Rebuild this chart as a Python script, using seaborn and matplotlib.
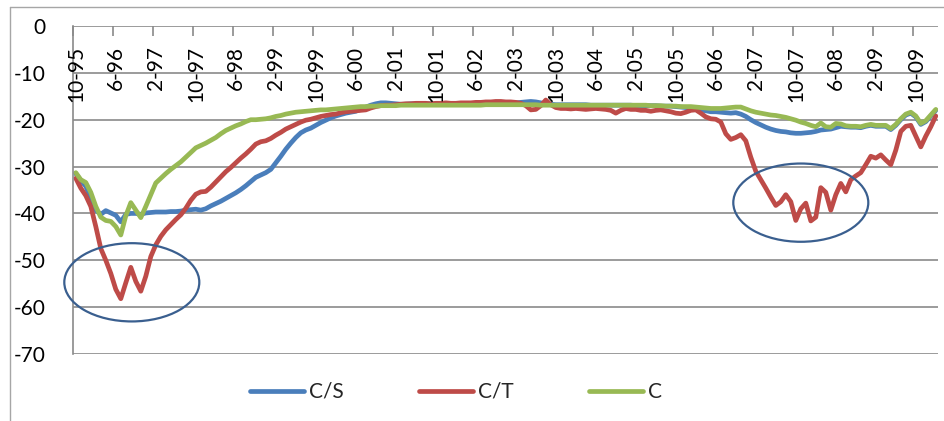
import numpy as np
import pandas as pd
import matplotlib
matplotlib.use("Agg")
import matplotlib.pyplot as plt
import matplotlib.transforms as mtransforms
from matplotlib.lines import Line2D
from matplotlib.patches import Ellipse
import seaborn as sns

# Monthly observations, October 1995 through February 2010
months = pd.period_range("1995-10", "2010-02", freq="M")
month_labels = [f"{p.month}-{p.year % 100:02d}" for p in months]

SERIES = ["C/S", "C/T", "C"]
COLORS = ["#4A7EBB", "#BE4B48", "#98B954"]

cs_values = [
    -31.5, -33.0, -34.2, -36.8, -39.3, -40.2, -39.4, -39.9, -40.4, -41.8,
    -40.2, -40.0, -40.0, -40.2, -39.9, -39.8, -39.7, -39.7, -39.7, -39.6,
    -39.6, -39.5, -39.3, -39.2, -39.1, -39.3, -39.0, -38.4, -37.9, -37.4,
    -36.8, -36.2, -35.6, -34.9, -34.1, -33.2, -32.3, -31.8, -31.3, -30.6,
    -29.2, -27.8, -26.3, -25.0, -23.8, -22.8, -22.2, -21.8, -21.2, -20.6,
    -20.1, -19.6, -19.2, -18.9, -18.6, -18.4, -18.2, -17.8, -17.3, -16.9,
    -16.6, -16.4, -16.4, -16.5, -16.6, -16.7, -16.7, -16.6, -16.6, -16.6,
    -16.6, -16.6, -16.6, -16.7, -16.7, -16.6, -16.6, -16.6, -16.7, -16.7,
    -16.6, -16.6, -16.6, -16.6, -16.5, -16.5, -16.6, -16.6, -16.4, -16.3,
    -16.2, -16.1, -16.2, -16.4, -16.6, -16.7, -16.8, -16.8, -16.8, -16.8,
    -16.8, -16.8, -16.8, -16.9, -16.9, -16.9, -16.9, -16.9, -16.9, -16.9,
    -16.9, -16.9, -17.0, -17.0, -17.0, -17.0, -17.0, -17.1, -17.1, -17.1,
    -17.2, -17.3, -17.4, -17.5, -17.7, -17.9, -18.1, -18.3, -18.3, -18.4,
    -18.5, -18.6, -18.5, -18.8, -19.3, -20.0, -20.6, -21.1, -21.6, -22.0,
    -22.3, -22.5, -22.6, -22.8, -22.9, -22.9, -22.8, -22.7, -22.5, -22.2,
    -22.1, -22.0, -21.7, -21.4, -21.5, -21.6, -21.6, -21.7, -21.4, -21.2,
    -21.4, -21.4, -21.4, -22.1, -21.2, -20.0, -19.0, -18.6, -19.4, -21.0,
    -20.4, -19.2, -18.0,
]

ct_values = [
    -32.5, -34.6, -36.2, -38.5, -42.8, -47.5, -50.0, -52.8, -56.2, -58.2,
    -54.8, -51.5, -54.5, -56.6, -53.4, -49.2, -46.7, -44.9, -43.5, -42.4,
    -41.3, -40.3, -38.9, -37.2, -35.9, -35.4, -35.3, -34.4, -33.3, -32.2,
    -31.1, -30.2, -29.2, -28.2, -27.3, -26.3, -25.2, -24.7, -24.5, -24.0,
    -23.3, -22.7, -22.0, -21.5, -21.0, -20.5, -20.1, -19.9, -19.6, -19.3,
    -19.1, -18.9, -18.8, -18.5, -18.3, -18.2, -18.1, -18.0, -17.9, -17.5,
    -17.2, -17.0, -16.9, -16.9, -16.8, -16.7, -16.6, -16.6, -16.5, -16.5,
    -16.5, -16.6, -16.5, -16.5, -16.4, -16.5, -16.5, -16.4, -16.4, -16.4,
    -16.3, -16.3, -16.2, -16.2, -16.1, -16.1, -16.2, -16.2, -16.3, -16.5,
    -17.0, -17.9, -17.8, -17.0, -15.8, -16.8, -17.4, -17.6, -17.6, -17.7,
    -17.6, -17.7, -17.8, -17.7, -17.6, -17.7, -17.8, -18.0, -18.6, -18.0,
    -17.6, -17.8, -17.8, -18.0, -18.0, -18.2, -18.0, -17.9, -18.1, -18.3,
    -18.6, -18.7, -18.4, -18.0, -17.9, -18.6, -19.4, -19.8, -19.9, -20.5,
    -23.0, -24.2, -23.8, -23.2, -24.5, -28.0, -31.0, -32.8, -34.6, -36.5,
    -38.3, -37.5, -36.0, -37.5, -41.5, -39.0, -37.8, -41.6, -40.8, -34.5,
    -35.5, -39.3, -36.0, -33.6, -35.4, -32.8, -32.0, -31.3, -29.6, -27.8,
    -28.2, -27.5, -28.6, -29.6, -26.5, -22.5, -21.4, -21.2, -23.5, -25.8,
    -23.5, -21.5, -19.2,
]

c_values = [
    -31.3, -32.8, -33.4, -35.5, -38.5, -40.8, -41.5, -41.7, -42.8, -44.6,
    -40.5, -37.7, -39.3, -40.9, -38.5, -36.0, -33.5, -32.5, -31.5, -30.6,
    -29.8, -29.0, -28.0, -27.0, -26.0, -25.5, -25.0, -24.4, -23.8, -23.0,
    -22.3, -21.8, -21.3, -20.9, -20.4, -20.0, -20.0, -19.9, -19.8, -19.6,
    -19.3, -19.1, -18.8, -18.6, -18.4, -18.3, -18.2, -18.1, -18.0, -17.9,
    -17.9, -17.8, -17.7, -17.6, -17.5, -17.4, -17.3, -17.2, -17.2, -17.1,
    -17.1, -17.0, -17.0, -17.0, -17.0, -16.9, -16.9, -16.9, -16.9, -16.9,
    -16.9, -16.9, -16.9, -16.9, -16.9, -16.9, -16.9, -16.9, -16.9, -16.9,
    -16.9, -16.9, -16.8, -16.8, -16.8, -16.8, -16.8, -16.8, -16.8, -16.8,
    -16.8, -16.8, -16.8, -16.9, -16.9, -16.9, -16.9, -16.9, -16.9, -16.9,
    -16.9, -16.9, -16.9, -16.9, -16.9, -16.9, -16.9, -16.9, -16.9, -16.9,
    -16.9, -16.9, -16.9, -16.9, -16.9, -17.0, -17.0, -17.0, -17.1, -17.1,
    -17.1, -17.2, -17.2, -17.2, -17.3, -17.4, -17.5, -17.6, -17.6, -17.6,
    -17.5, -17.4, -17.3, -17.3, -17.7, -18.1, -18.4, -18.6, -18.8, -19.0,
    -19.1, -19.3, -19.5, -19.8, -20.1, -20.5, -20.8, -21.2, -21.5, -20.7,
    -21.5, -21.6, -20.8, -20.9, -21.3, -21.4, -21.4, -21.5, -21.2, -21.0,
    -21.2, -21.2, -21.2, -21.9, -21.0, -19.8, -18.8, -18.4, -19.2, -20.8,
    -20.2, -19.0, -17.8,
]

Y_TICKS = [0, -10, -20, -30, -40, -50, -60, -70]
LABEL_STEP = 8

sns.set_theme(style="white")
plt.rcParams["font.family"] = ["Lato", "DejaVu Sans"]

df = pd.DataFrame({"pos": np.arange(len(months)),
                   "C/S": cs_values, "C/T": ct_values, "C": c_values})
long_df = df.melt(id_vars="pos", var_name="series", value_name="value")

W, H, DPI = 944, 421, 100
LINE_W = 3.4
fig = plt.figure(figsize=(W / DPI, H / DPI), dpi=DPI)
ax = fig.add_axes([73.3 / W, 1 - 354 / H, 865 / W, 328 / H])

sns.lineplot(data=long_df, x="pos", y="value", hue="series",
             hue_order=SERIES, palette=COLORS, linewidth=LINE_W,
             solid_capstyle="round", solid_joinstyle="round",
             legend=False, ax=ax)

n = len(months)
ax.set_xlim(-0.5, n - 0.5)
ax.set_ylim(-70, 0)
ax.set_xlabel("")
ax.set_ylabel("")

# horizontal gridlines
grid_color = "#8A8A8A"
ax.set_yticks(Y_TICKS)
ax.set_yticklabels([str(v) for v in Y_TICKS], fontsize=15, color="black")
ax.yaxis.grid(True, color=grid_color, linewidth=1.2)
ax.set_axisbelow(True)
ax.tick_params(axis="y", direction="out", length=8, width=1.2,
               color=grid_color, pad=12)

# category axis sits at the top (value 0), ticks between categories
ax.xaxis.set_ticks_position("top")
ax.set_xticks(np.arange(-0.5, n, LABEL_STEP))
ax.set_xticklabels([])
ax.tick_params(axis="x", direction="in", length=7, width=1.2,
               color=grid_color)

for side in ["top", "right", "bottom"]:
    ax.spines[side].set_visible(False)
ax.spines["left"].set_color(grid_color)
ax.spines["left"].set_linewidth(1.2)

label_tf = mtransforms.offset_copy(ax.get_xaxis_transform(), fig=fig,
                                   x=0, y=-20, units="dots")
for pos in range(0, n, LABEL_STEP):
    ax.text(pos, 1, month_labels[pos], transform=label_tf, rotation=90,
            ha="center", va="top", fontsize=15, color="black")

# highlight the two troughs of C/T
for (cx, cy) in [(11.2, -54.7), (145.0, -37.7)]:
    ax.add_patch(Ellipse((cx, cy), width=27, height=16.7, fill=False,
                         edgecolor="#3A5F8F", linewidth=1.6, clip_on=False,
                         zorder=5))

handles = [Line2D([], [], color=c, linewidth=LINE_W, solid_capstyle="round")
           for c in COLORS]
fig.legend(handles, SERIES, loc="center", bbox_to_anchor=(456 / W, 1 - 392 / H),
           ncol=3, frameon=False, fontsize=15, handlelength=2.6,
           handletextpad=0.25, columnspacing=3.6)

# chart-area border
border = "#A6A6A6"
fig.add_artist(Line2D([10 / W, 10 / W], [0, 1 - 7 / H], transform=fig.transFigure,
                      color=border, linewidth=1.0))
fig.add_artist(Line2D([10 / W, 1], [1 - 7 / H, 1 - 7 / H], transform=fig.transFigure,
                      color=border, linewidth=1.0))

fig.savefig("out.png", dpi=DPI)
